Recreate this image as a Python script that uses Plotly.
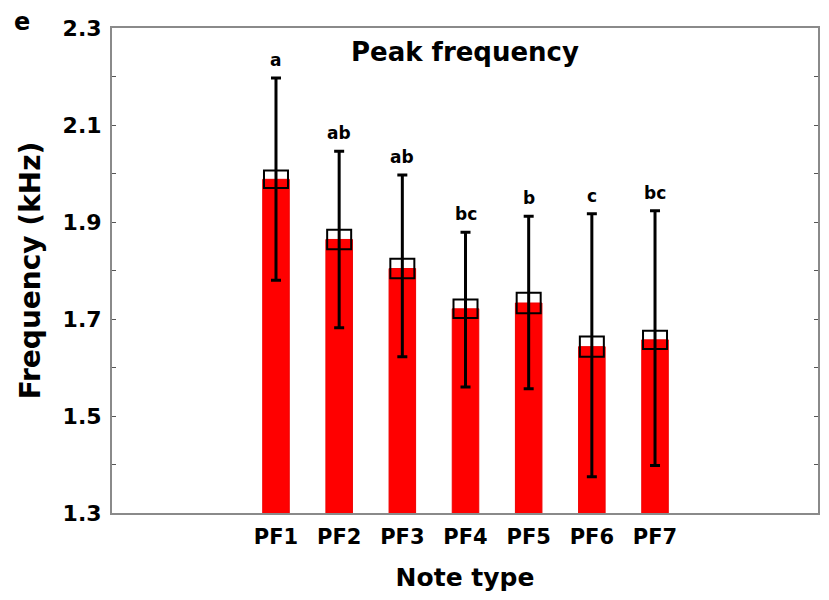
import plotly.graph_objects as go

categories = ["PF1", "PF2", "PF3", "PF4", "PF5", "PF6", "PF7"]
means = [1.988, 1.864, 1.804, 1.721, 1.733, 1.643, 1.657]
se = [0.018, 0.020, 0.020, 0.019, 0.021, 0.021, 0.019]
upper = [2.197, 2.046, 1.997, 1.879, 1.912, 1.917, 1.923]
lower = [1.780, 1.682, 1.622, 1.560, 1.556, 1.375, 1.398]
letters = ["a", "ab", "ab", "bc", "b", "c", "bc"]
y_ticks = [1.3, 1.5, 1.7, 1.9, 2.1, 2.3]

FONT = "DejaVu Sans"

fig = go.Figure()

fig.add_trace(go.Bar(
    x=categories, y=means, width=0.42,
    marker=dict(color="#ff0000", line=dict(color="#ee0000", width=1)),
    error_y=dict(type="data", symmetric=False,
                 array=[u - m for u, m in zip(upper, means)],
                 arrayminus=[m - l for m, l in zip(means, lower)],
                 color="black", thickness=3, width=5),
    showlegend=False, hoverinfo="skip",
))

fig.add_trace(go.Bar(
    x=categories, y=[2 * s for s in se], base=[m - s for m, s in zip(means, se)],
    width=0.38,
    marker=dict(color="rgba(0,0,0,0)", line=dict(color="black", width=2)),
    showlegend=False, hoverinfo="skip",
))

for c, u, t in zip(categories, upper, letters):
    fig.add_annotation(x=c, y=u, text=t, showarrow=False, yanchor="bottom",
                       yshift=6, font=dict(family=FONT, size=17, color="black", weight="bold"))

fig.add_annotation(xref="paper", yref="paper", x=0.5, y=0.9505, text="Peak frequency",
                   showarrow=False, yanchor="middle",
                   font=dict(family=FONT, size=26, color="black", weight="bold"))

fig.add_annotation(xref="paper", yref="paper", x=(22 - 112) / 706, y=(513 - 22) / 485,
                   text="e", showarrow=False, xanchor="center", yanchor="middle",
                   font=dict(family=FONT, size=24, color="black", weight="bold"))

# The page body has an 8 px default margin; size the figure so the plot area
# lands at x 112-818, y 28-513 in the 829x600 window.
fig.update_layout(
    width=813, height=584,
    margin=dict(l=104, r=3, t=20, b=79, autoexpand=False),
    paper_bgcolor="white", plot_bgcolor="white",
    barmode="overlay",
    xaxis=dict(
        type="category", range=[-2.596, 8.58], automargin=False,
        showline=True, linecolor="#8a8a8a", linewidth=2, mirror=True,
        ticks="", showgrid=False, ticklabelstandoff=4,
        tickfont=dict(family=FONT, size=21, color="black", weight="bold"),
        title=dict(text="Note type", standoff=27,
                   font=dict(family=FONT, size=25, color="black", weight="bold")),
    ),
    yaxis=dict(
        range=[1.3, 2.3], tickvals=y_ticks, tickformat=".1f", automargin=False,
        showline=True, linecolor="#8a8a8a", linewidth=2, mirror="ticks",
        ticks="inside", ticklen=4, tickcolor="#555", tickwidth=1,
        minor=dict(dtick=0.1, tick0=1.3, ticks="inside", ticklen=4, tickcolor="#555"),
        showgrid=False, zeroline=False,
        ticklabelstandoff=4,
        tickfont=dict(family=FONT, size=22, color="black", weight="bold"),
        title=dict(text="Frequency (kHz)", standoff=14,
                   font=dict(family=FONT, size=28, color="black", weight="bold")),
    ),
)

fig.write_html("out.html")
